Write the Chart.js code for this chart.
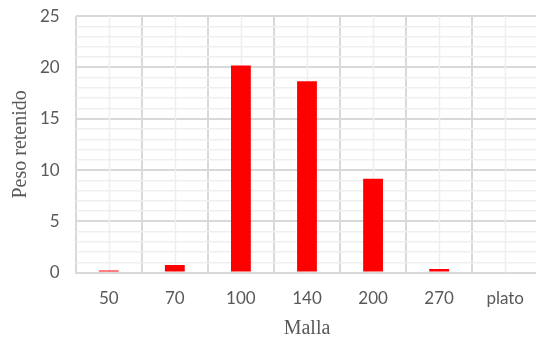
<!DOCTYPE html>
<html>
<head>
<meta charset="utf-8">
<script src="https://cdn.jsdelivr.net/npm/chart.js@4/dist/chart.umd.min.js"></script>
<style>
  html, body { margin: 0; padding: 0; background: #fff; overflow: hidden; }
  #wrap { position: relative; width: 540px; height: 349px; margin-top: -10px; }
</style>
</head>
<body>
<div id="wrap"><canvas id="c"></canvas></div>
<script>
// Mesh sizes and retained weight per sieve
const mallas = ['50', '70', '100', '140', '200', '270', 'plato'];
const pesoRetenido = [0.2, 0.75, 20.2, 18.65, 9.15, 0.35, 0];
const yTicks = [0, 5, 10, 15, 20, 25];

const majorGrid = '#d9d9d9';
const minorGrid = '#efefef';
const tickColor = '#595959';

// Light vertical lines through the centre of each category
const minorVertical = {
  id: 'minorVertical',
  beforeDatasetsDraw(chart) {
    const { ctx, chartArea, scales } = chart;
    ctx.save();
    ctx.strokeStyle = minorGrid;
    ctx.lineWidth = 1.5;
    mallas.forEach((m, i) => {
      const x = Math.round(scales.x.getPixelForValue(i)) + 0.5;
      ctx.beginPath();
      ctx.moveTo(x, chartArea.top);
      ctx.lineTo(x, chartArea.bottom);
      ctx.stroke();
    });
    ctx.restore();
  }
};

new Chart(document.getElementById('c'), {
  type: 'bar',
  data: {
    labels: mallas,
    datasets: [{
      data: pesoRetenido,
      backgroundColor: '#ff0000',
      borderWidth: 0,
      barPercentage: 0.6,
      categoryPercentage: 0.5
    }]
  },
  plugins: [minorVertical],
  options: {
    responsive: true,
    maintainAspectRatio: false,
    animation: false,
    layout: { padding: { top: -4, right: 0, bottom: 0, left: 11 } },
    plugins: { legend: { display: false }, tooltip: { enabled: false } },
    scales: {
      x: {
        grid: { offset: true, color: majorGrid, lineWidth: 2, drawTicks: false },
        border: { color: majorGrid, width: 2 },
        ticks: { color: tickColor, font: { family: 'Lato', size: 17 }, padding: 16 },
        title: {
          display: true, text: 'Malla', color: tickColor,
          font: { family: 'Liberation Serif', size: 20, lineHeight: 1 },
          padding: { top: -6, bottom: 0 }
        }
      },
      y: {
        min: 0, max: 25,
        afterBuildTicks(scale) {
          const t = [];
          for (let v = 0; v <= 25; v++) t.push({ value: v });
          scale.ticks = t;
        },
        grid: {
          drawTicks: false,
          color: c => (yTicks.includes(c.tick.value) ? majorGrid : minorGrid),
          lineWidth: c => (yTicks.includes(c.tick.value) ? 2 : 1.5)
        },
        border: { display: false },
        ticks: {
          color: tickColor, font: { family: 'Lato', size: 17 }, padding: 16,
          autoSkip: false,
          callback: v => (yTicks.includes(v) ? String(v) : '')
        },
        title: {
          display: true, text: 'Peso retenido', color: tickColor,
          font: { family: 'Liberation Serif', size: 20, lineHeight: 1 },
          padding: { top: 0, bottom: -7 }
        }
      }
    }
  }
});
</script>
</body>
</html>
